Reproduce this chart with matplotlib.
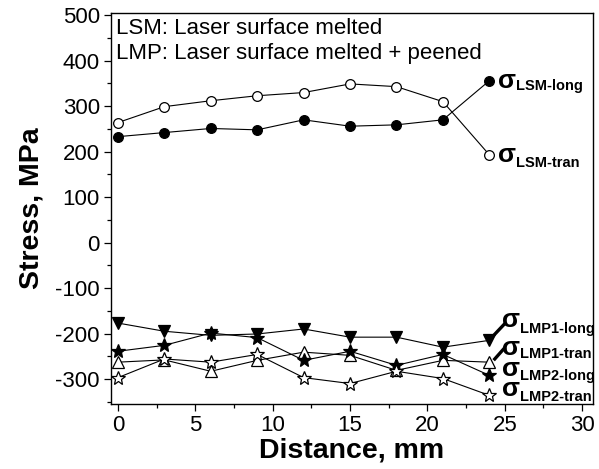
"""Residual stress vs distance for laser surface melted (LSM) and peened (LMP) samples."""

import matplotlib

matplotlib.use("Agg")
import matplotlib.pyplot as plt
from matplotlib.ticker import MultipleLocator

plt.rcParams["font.family"] = ["Liberation Sans", "DejaVu Sans"]
plt.rcParams["axes.unicode_minus"] = False

distance = [0, 3, 6, 9, 12, 15, 18, 21, 24]
lsm_long = [233, 242, 251, 248, 270, 256, 259, 270, 356]
lsm_tran = [264, 299, 312, 323, 330, 349, 343, 310, 193]
lmp1_long = [-177, -195, -204, -201, -190, -208, -208, -230, -215]
lmp1_tran = [-263, -258, -283, -259, -241, -248, -281, -259, -263]
lmp2_long = [-239, -226, -199, -209, -259, -239, -270, -246, -292]
lmp2_tran = [-297, -256, -263, -246, -297, -310, -283, -299, -336]

series = [
    ("LSM-long", lsm_long, "o", "black", 7),
    ("LSM-tran", lsm_tran, "o", "white", 7),
    ("LMP1-long", lmp1_long, "v", "black", 9),
    ("LMP1-tran", lmp1_tran, "^", "white", 9),
    ("LMP2-long", lmp2_long, "*", "black", 10),
    ("LMP2-tran", lmp2_tran, "*", "white", 10),
]

# sigma glyph position and subscript position (data coords) for each tag
label_pos = {
    "LSM-long": ((24.55, 356), (25.7, 345)),
    "LSM-tran": ((24.55, 193), (25.7, 176)),
    "LMP1-long": ((24.85, -171), (25.95, -189)),
    "LMP1-tran": ((24.85, -231), (25.95, -244)),
    "LMP2-long": ((24.85, -277), (25.95, -294)),
    "LMP2-tran": ((24.85, -323), (25.95, -340)),
}

fig = plt.figure(figsize=(5.99, 4.69), dpi=100)
ax = fig.add_axes([0.1853, 0.1386, 0.8047, 0.8337])

for name, values, marker, face, size in series:
    ax.plot(distance, values, color="black", lw=0.8, marker=marker,
            markersize=size, markerfacecolor=face, markeredgecolor="black",
            markeredgewidth=0.9)

for name, ((sx, sy), (tx, ty)) in label_pos.items():
    ax.text(sx, sy, "σ", fontsize=19, fontweight="bold", va="center", ha="left")
    ax.text(tx, ty, name, fontsize=10.5, fontweight="bold",
            va="center", ha="left")

# leader lines from the last LMP1 markers to their tags
ax.plot([24.2, 24.95], [-207, -180], color="black", lw=2.4)
ax.plot([24.35, 24.95], [-256, -233], color="black", lw=2.4)

ax.text(-0.15, 470, "LSM: Laser surface melted", fontsize=16, va="center")
ax.text(-0.15, 415, "LMP: Laser surface melted + peened", fontsize=16, va="center")

ax.set_xlim(-0.45, 30.7)
ax.set_ylim(-355, 505)
ax.xaxis.set_major_locator(MultipleLocator(5))
ax.xaxis.set_minor_locator(MultipleLocator(2.5))
ax.yaxis.set_major_locator(MultipleLocator(100))
ax.yaxis.set_minor_locator(MultipleLocator(50))
ax.tick_params(which="both", direction="out", labelsize=16)
ax.tick_params(which="major", length=5, width=0.9, pad=3)
ax.tick_params(which="minor", length=3, width=0.9)
ax.set_yticks(range(-300, 501, 100))

ax.set_xlabel("Distance, mm", fontsize=20.5, fontweight="bold", labelpad=1)
ax.set_ylabel("Stress, MPa", fontsize=20.5, fontweight="bold", labelpad=8)
for spine in ax.spines.values():
    spine.set_linewidth(1.0)

fig.savefig("out.png", dpi=100)
